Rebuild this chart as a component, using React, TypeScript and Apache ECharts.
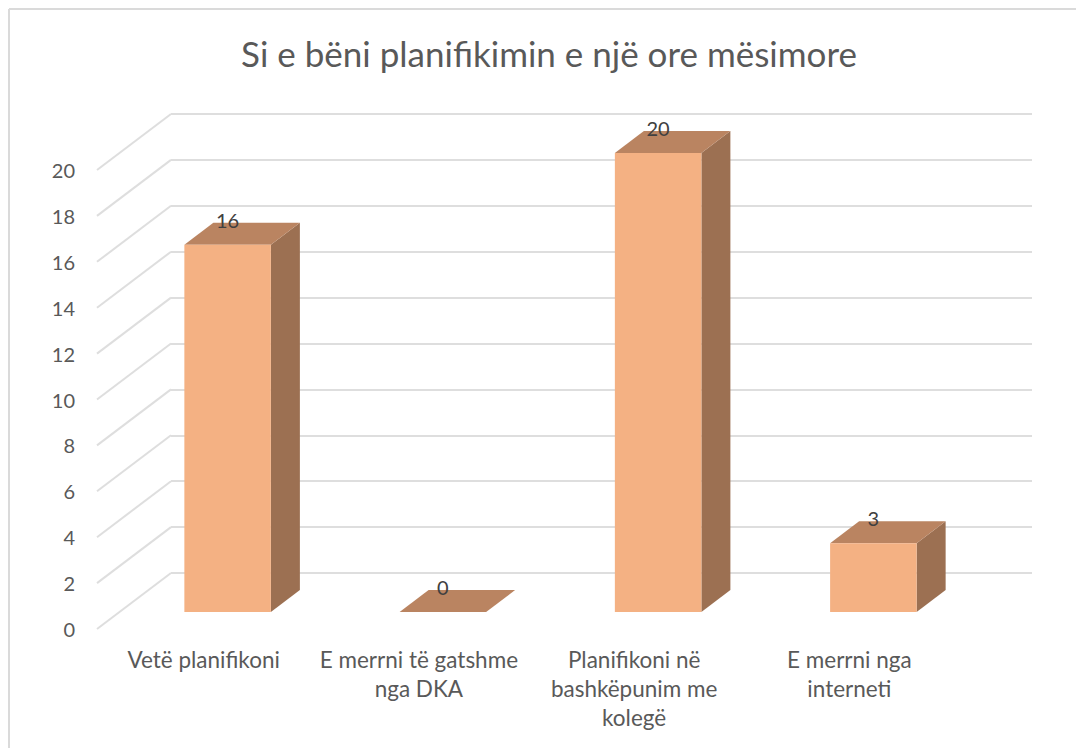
import React, { useEffect, useRef } from "react";
import * as echarts from "echarts";

const titleText = "Si e bëni planifikimin e një ore mësimore";
const categories = [
  "Vetë planifikoni",
  "E merrni të gatshme\nnga DKA",
  "Planifikoni në\nbashkëpunim me\nkolegë",
  "E merrni nga\ninterneti",
];
const values = [16, 0, 20, 3];
const gridTicks = [0, 2, 4, 6, 8, 10, 12, 14, 16, 18, 20];

const FONT = "Lato";
const DEPTH_X = 29;
const DEPTH_Y = 22;
const WALL_X = 74;
const WALL_Y = 56;

function renderBar(params: any, api: any) {
  const idx = api.value(0);
  const val = api.value(1);
  const [cx, top] = api.coord([idx, val]);
  const [, base] = api.coord([idx, 0]);
  const w = api.size([1, 0])[0] * 0.402;
  const l = cx - w / 2;
  const r = cx + w / 2;
  const children: any[] = [
    {
      type: "polygon",
      shape: { points: [[r, top], [r + DEPTH_X, top - DEPTH_Y], [r + DEPTH_X, base - DEPTH_Y], [r, base]] },
      style: { fill: "#9C7052" },
    },
    {
      type: "polygon",
      shape: { points: [[l, top], [l + DEPTH_X, top - DEPTH_Y], [r + DEPTH_X, top - DEPTH_Y], [r, top]] },
      style: { fill: "#BA8461" },
    },
    { type: "rect", shape: { x: l, y: top, width: w, height: base - top }, style: { fill: "#F4B183" } },
    {
      type: "text",
      style: {
        x: cx,
        y: top - 25,
        text: String(val),
        align: "center",
        verticalAlign: "middle",
        fill: "#404040",
        font: `20px ${FONT}`,
      },
    },
  ];
  return { type: "group", children };
}

function renderSlant(params: any, api: any) {
  const [x, y] = api.coord([0, api.value(0)]);
  const left = x - api.size([1, 0])[0] / 2;
  return {
    type: "line",
    shape: { x1: left, y1: y, x2: left - WALL_X, y2: y + WALL_Y },
    style: { stroke: "#DEDEDE", lineWidth: 2 },
  };
}

export default function App() {
  const ref = useRef<HTMLDivElement>(null);
  useEffect(() => {
    const chart = echarts.init(ref.current!, undefined, { renderer: "svg" });
    const hiddenCat = { show: false, type: "category" as const, data: categories };
    const hiddenVal = { type: "value" as const, min: 0, max: 20, interval: 2 };
    chart.setOption({
      animation: false,
      backgroundColor: "#ffffff",
      title: {
        text: titleText,
        left: 544,
        top: 30,
        textAlign: "center",
        textStyle: { color: "#595959", fontFamily: FONT, fontSize: 35, fontWeight: "normal" },
      },
      graphic: [
        { type: "line", shape: { x1: 9, y1: 9, x2: 9, y2: 748 }, style: { stroke: "#DADADA", lineWidth: 2 } },
        { type: "line", shape: { x1: 9, y1: 9, x2: 1076, y2: 9 }, style: { stroke: "#DADADA", lineWidth: 2 } },
      ],
      grid: [
        { left: 120, width: 861, top: 153, height: 459 },
        { left: 96, width: 861, top: 170, height: 459 },
        { left: 171, width: 861, top: 114, height: 459 },
      ],
      xAxis: [
        { ...hiddenCat, gridIndex: 0 },
        {
          type: "category",
          gridIndex: 1,
          data: categories,
          axisLine: { show: false },
          axisTick: { show: false },
          axisLabel: {
            color: "#595959",
            fontFamily: FONT,
            fontSize: 22.5,
            lineHeight: 29,
            margin: 16,
            interval: 0,
            hideOverlap: false,
          },
        },
        { ...hiddenCat, gridIndex: 2 },
      ],
      yAxis: [
        { ...hiddenVal, gridIndex: 0, show: false },
        {
          ...hiddenVal,
          gridIndex: 1,
          axisLine: { show: false },
          axisTick: { show: false },
          splitLine: { show: false },
          axisLabel: { color: "#595959", fontFamily: FONT, fontSize: 20, margin: 21 },
        },
        {
          ...hiddenVal,
          gridIndex: 2,
          axisLine: { show: false },
          axisTick: { show: false },
          axisLabel: { show: false },
          splitLine: { show: true, lineStyle: { color: "#DEDEDE", width: 2 } },
        },
      ],
      series: [
        {
          type: "custom",
          xAxisIndex: 2,
          yAxisIndex: 2,
          z: 1,
          clip: false,
          silent: true,
          data: gridTicks.map((t) => [t]),
          encode: { y: 0 },
          renderItem: renderSlant,
        },
        {
          type: "custom",
          xAxisIndex: 0,
          yAxisIndex: 0,
          z: 5,
          clip: false,
          silent: true,
          data: values.map((v, i) => [i, v]),
          encode: { x: 0, y: 1 },
          renderItem: renderBar,
        },
      ],
    });
    return () => chart.dispose();
  }, []);
  return <div ref={ref} style={{ position: "fixed", left: 0, top: 0, width: 1076, height: 748 }} />;
}
